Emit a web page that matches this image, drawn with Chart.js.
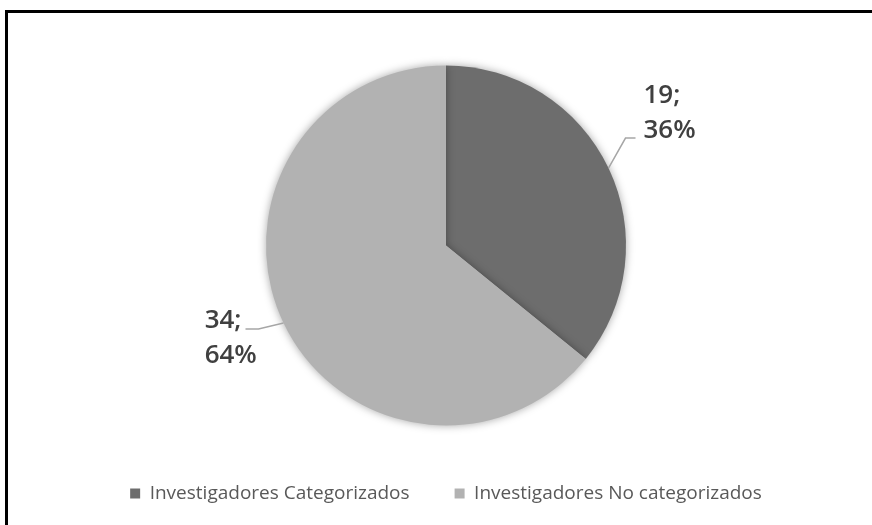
<!DOCTYPE html>
<html>
<head>
<meta charset="utf-8">
<script src="https://cdn.jsdelivr.net/npm/chart.js@4"></script>
<style>
  html, body { margin: 0; padding: 0; background: #fff; }
  #wrap { position: relative; width: 872px; height: 525px; overflow: hidden; }
  #frame { position: absolute; left: 5px; top: 10px; right: -10px; bottom: -10px;
           border-top: 3px solid #000; border-left: 3px solid #000; }
  #box { position: absolute; left: 0; top: 0; width: 872px; height: 525px; }
</style>
</head>
<body>
<div id="wrap">
  <div id="frame"></div>
  <div id="box"><canvas id="pie"></canvas></div>
</div>
<script>
// Data
const categories = ['Investigadores Categorizados', 'Investigadores No categorizados'];
const counts = [19, 34];
const percents = ['36%', '64%'];
const sliceColors = ['#6d6d6d', '#b2b2b2'];

// Labels "n;" / "pct" with leader lines
const sliceLabels = {
    id: 'sliceLabels',
    afterDatasetsDraw(chart) {
        const ctx = chart.ctx;
        const meta = chart.getDatasetMeta(0);
        ctx.save();
        ctx.font = '600 26px "Open Sans"';
        ctx.fillStyle = '#404040';
        ctx.textBaseline = 'middle';
        ctx.textAlign = 'left';
        meta.data.forEach((arc, i) => {
            const p = arc.getProps(['x', 'y', 'startAngle', 'endAngle', 'outerRadius'], true);
            const mid = (p.startAngle + p.endAngle) / 2;
            const sx = p.x + Math.cos(mid) * p.outerRadius;
            const sy = p.y + Math.sin(mid) * p.outerRadius;
            const first = counts[i] + ';';
            let ex, ey, lx, tx, y1, y2;
            if (Math.cos(mid) >= 0) {
                ex = sx + 17; ey = sy - 30; lx = ex + 10;
                tx = lx + 8; y1 = ey - 42; y2 = ey - 7;
            } else {
                ex = sx - 25; ey = sy + 6; lx = ex - 13;
                tx = lx - 4 - ctx.measureText(first).width; y1 = ey - 8; y2 = ey + 27;
            }
            ctx.strokeStyle = '#a6a6a6';
            ctx.lineWidth = 1.5;
            ctx.beginPath();
            ctx.moveTo(sx, sy);
            ctx.lineTo(ex, ey);
            ctx.lineTo(lx, ey);
            ctx.stroke();
            ctx.fillText(first, tx, y1);
            ctx.fillText(percents[i], tx, y2);
        });
        ctx.restore();
    }
};

// soft shadow under the pie
const pieShadow = {
    id: 'pieShadow',
    beforeDatasetsDraw(chart) {
        const ctx = chart.ctx;
        ctx.save();
        ctx.shadowColor = 'rgba(0,0,0,0.35)';
        ctx.shadowBlur = 8;
    },
    afterDatasetsDraw(chart) {
        chart.ctx.restore();
    }
};

new Chart(document.getElementById('pie'), {
    type: 'pie',
    data: {
        labels: categories,
        datasets: [{
            data: counts,
            backgroundColor: sliceColors,
            borderWidth: 0
        }]
    },
    options: {
        responsive: true,
        maintainAspectRatio: false,
        animation: false,
        radius: 180,
        layout: { padding: { left: 20, top: 52, bottom: 12 } },
        plugins: {
            tooltip: { enabled: false },
            legend: {
                position: 'bottom',
                labels: {
                    boxWidth: 10,
                    boxHeight: 10,
                    padding: 45,
                    color: '#595959',
                    font: { family: 'Open Sans', size: 19 }
                }
            }
        }
    },
    plugins: [pieShadow, sliceLabels]
});
</script>
</body>
</html>
